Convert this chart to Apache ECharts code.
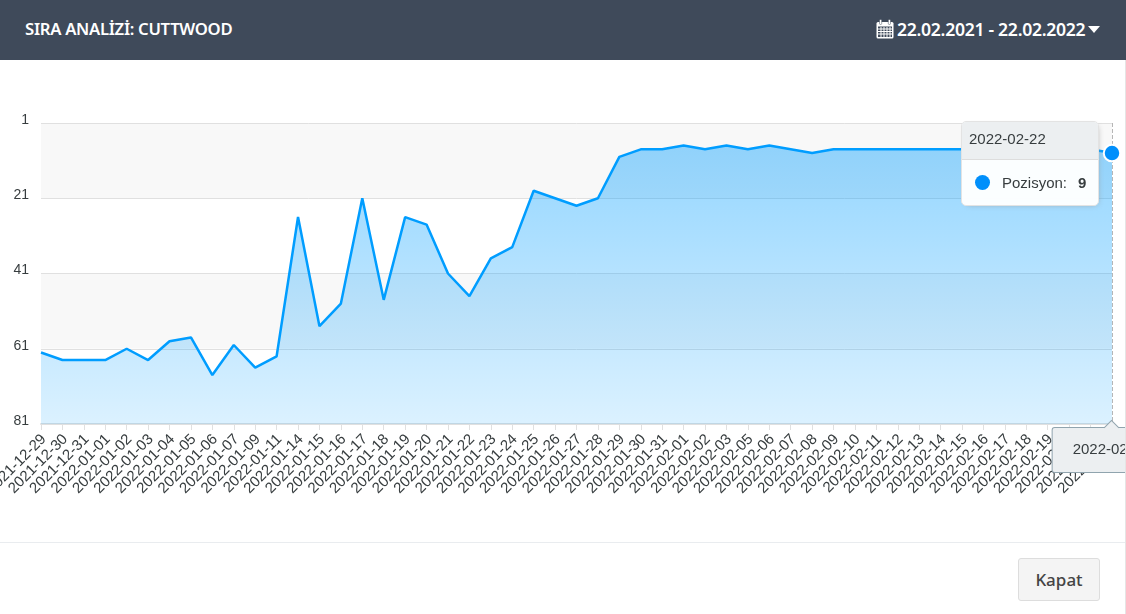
<!DOCTYPE html>
<html>
<head>
<meta charset="utf-8">
<title>Sira Analizi</title>
<script src="https://cdn.jsdelivr.net/npm/echarts@6/dist/echarts.min.js"></script>
<style>
  html, body { margin: 0; padding: 0; background: #fff; overflow: hidden; }
  #page { position: relative; width: 1126px; height: 614px; overflow: hidden; font-family: "Noto Sans", sans-serif; }
  #head { position: absolute; left: 0; top: 0; width: 1126px; height: 60px; background: #3f4a5a; color: #fff; font-weight: 600; }
  #title { position: absolute; left: 25px; top: 17px; font-size: 16.7px; line-height: 24px; letter-spacing: -0.3px; white-space: nowrap; }
  #range { position: absolute; left: 897px; top: 16px; font-size: 17.6px; line-height: 26px; letter-spacing: -0.3px; white-space: nowrap; }
  #cal { position: absolute; left: 876px; top: 19px; }
  #caret { position: absolute; left: 1088px; top: 26px; width: 0; height: 0; border-left: 6px solid transparent; border-right: 6px solid transparent; border-top: 7px solid #fff; }
  #chart { position: absolute; left: 0; top: 60px; width: 1260px; height: 482px; }
  #arrow { position: absolute; left: 1106px; top: 422px; width: 11px; height: 11px; background: #eceff1; border-left: 1px solid #90a4ae; border-top: 1px solid #90a4ae; transform: rotate(45deg); box-sizing: border-box; }
  #foot { position: absolute; left: 0; top: 542px; width: 1126px; height: 1px; background: #e9ecef; }
  #close { position: absolute; left: 1018px; top: 558px; width: 82px; height: 43px; box-sizing: border-box; background: #f4f4f4; border: 1px solid #ddd; border-radius: 3px; color: #444; font-size: 17px; font-weight: 500; text-align: center; line-height: 41px; }
  #edge { position: absolute; left: 1125px; top: 60px; width: 1px; height: 554px; background: #e5e5e5; }
</style>
</head>
<body>
<div id="page">
  <div id="chart"></div>
  <div id="arrow"></div>
  <div id="head">
    <div id="title">SIRA ANALİZİ: CUTTWOOD</div>
    <svg id="cal" width="18" height="20" viewBox="0 0 18 20">
      <rect x="0.5" y="3" width="17" height="16.5" rx="1.5" fill="#fff"/>
      <rect x="2" y="7.5" width="14" height="10.5" fill="#3f4a5a"/>
      <path d="M2 10h14M2 12.5h14M2 15h14M5 8v10M8 8v10M11 8v10M14 8v10" stroke="#fff" stroke-width="1"/>
      <rect x="3.5" y="0.5" width="2.2" height="5" rx="1" fill="#fff" stroke="#3f4a5a" stroke-width="0.5"/>
      <rect x="12.3" y="0.5" width="2.2" height="5" rx="1" fill="#fff" stroke="#3f4a5a" stroke-width="0.5"/>
    </svg>
    <div id="range">22.02.2021 - 22.02.2022</div>
    <div id="caret"></div>
  </div>
  <div id="foot"></div>
  <div id="close">Kapat</div>
  <div id="edge"></div>
</div>
<script>
var dates = [
  '2021-12-29', '2021-12-30', '2021-12-31', '2022-01-01', '2022-01-02', '2022-01-03', '2022-01-04',
  '2022-01-05', '2022-01-06', '2022-01-07', '2022-01-09', '2022-01-11', '2022-01-14', '2022-01-15',
  '2022-01-16', '2022-01-17', '2022-01-18', '2022-01-19', '2022-01-20', '2022-01-21', '2022-01-22',
  '2022-01-23', '2022-01-24', '2022-01-25', '2022-01-26', '2022-01-27', '2022-01-28', '2022-01-29',
  '2022-01-30', '2022-01-31', '2022-02-01', '2022-02-02', '2022-02-03', '2022-02-05', '2022-02-06',
  '2022-02-07', '2022-02-08', '2022-02-09', '2022-02-10', '2022-02-11', '2022-02-12', '2022-02-13',
  '2022-02-14', '2022-02-15', '2022-02-16', '2022-02-17', '2022-02-18', '2022-02-19', '2022-02-20',
  '2022-02-21', '2022-02-22'
]
var positions = [
  62, 64, 64, 64, 61, 64, 59,
  58, 68, 60, 66, 63, 26, 55,
  49, 21, 48, 26, 28, 41, 47,
  37, 34, 19, 21, 23, 21, 10,
  8, 8, 7, 8, 7, 8, 7,
  8, 9, 8, 8, 8, 8, 8,
  8, 8, 8, 8, 8, 8, 8,
  8, 9
]
var yTicks = [1, 21, 41, 61, 81]
var seriesName = 'Pozisyon'

var chart = echarts.init(document.getElementById('chart'))
var option = {
  animation: false,
  grid: { left: 41, top: 63, width: 1071, height: 301, containLabel: false, outerBoundsMode: 'none' },
  tooltip: {
    trigger: 'axis',
    transitionDuration: 0,
    padding: 0,
    borderWidth: 1,
    borderColor: '#e3e3e3',
    backgroundColor: 'rgba(255,255,255,0.96)',
    extraCssText: 'border-radius:5px;box-shadow:2px 2px 6px -4px #999;overflow:hidden;',
    position: function() {
      return [961, 61]
    },
    formatter: function(params) {
      var p = params[0]
      return '<div style="width:136px;font-family:Liberation Sans,Arial,sans-serif;font-size:15px;color:#373d3f;">' +
        '<div style="height:37px;line-height:34px;padding-left:7px;background:#eceff1;border-bottom:1px solid #ddd;">' + p.name + '</div>' +
        '<div style="height:45px;line-height:45px;position:relative;">' +
        '<span style="position:absolute;left:13px;top:15px;width:15px;height:15px;border-radius:50%;background:#008ffb;"></span>' +
        '<span style="position:absolute;left:40px;">' + seriesName + ':</span>' +
        '<span style="position:absolute;left:116px;font-weight:bold;">' + p.value + '</span>' +
        '</div></div>'
    }
  },
  xAxis: {
    type: 'category',
    data: dates,
    boundaryGap: false,
    axisLine: { lineStyle: { color: '#e0e0e0', width: 2 }},
    axisTick: { show: true, length: 6, alignWithLabel: true, lineStyle: { color: '#e0e0e0' }},
    axisLabel: {
      show: true,
      interval: 0,
      rotate: 45,
      margin: 10,
      verticalAlign: 'top',
      lineHeight: 8,
      hideOverlap: false,
      color: '#373d3f',
      fontSize: 15,
      fontFamily: 'Liberation Sans'
    },
    axisPointer: {
      show: true,
      type: 'line',
      z: 1,
      lineStyle: { color: '#b6b6b6', type: 'dashed', width: 1 },
      label: {
        show: true,
        margin: 4,
        padding: [14, 22, 15, 20],
        color: '#373d3f',
        fontSize: 15,
        fontFamily: 'Liberation Sans',
        backgroundColor: '#eceff1',
        borderColor: '#90a4ae',
        borderWidth: 1,
        borderRadius: 2
      }
    }
  },
  yAxis: {
    type: 'value',
    inverse: true,
    min: 1,
    max: 81,
    axisLine: { show: false },
    axisTick: { show: false, customValues: yTicks },
    axisLabel: {
      show: true,
      customValues: yTicks,
      margin: 12,
      verticalAlign: 'bottom',
      lineHeight: 6,
      color: '#373d3f',
      fontSize: 14,
      fontFamily: 'Liberation Sans'
    },
    splitLine: { show: true, customValues: yTicks, lineStyle: { color: '#e0e0e0', width: 1 }},
    splitArea: { show: true, customValues: yTicks, areaStyle: { color: ['#f8f8f8', '#ffffff'] }}
  },
  series: [
    {
      name: seriesName,
      type: 'line',
      data: positions,
      showSymbol: false,
      symbol: 'circle',
      symbolSize: 15,
      itemStyle: { color: '#008ffb', borderColor: '#fff', borderWidth: 2 },
      lineStyle: { color: '#008ffb', width: 2.5 },
      areaStyle: {
        origin: 'end',
        opacity: 1,
        color: new echarts.graphic.LinearGradient(0, 0, 0, 1, [
          { offset: 0, color: 'rgba(0,143,251,0.42)' },
          { offset: 1, color: 'rgba(0,143,251,0.14)' }
        ])
      }
    }
  ]
}
chart.setOption(option)
chart.dispatchAction({ type: 'showTip', seriesIndex: 0, dataIndex: dates.length - 1 })
</script>
</body>
</html>
